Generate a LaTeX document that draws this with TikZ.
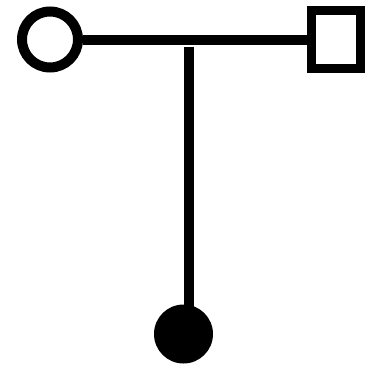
\documentclass[tikz,border=0pt]{standalone}
\pgfdeclarelayer{background}
\pgfsetlayers{background,main}
\begin{document}
\begin{tikzpicture}[x=1pt,y=1pt,
  ring/.style={circle,draw=black,line width=10pt,fill=white,minimum size=56pt,inner sep=0pt},
  box/.style={rectangle,draw=black,line width=9pt,fill=white,minimum width=49pt,minimum height=58pt,inner sep=0pt},
  dot/.style={circle,fill=black,minimum size=59pt,inner sep=0pt},
  link/.style={line width=10pt,black}]
\useasboundingbox (0,0) rectangle (369,-365);
\node[ring] (a) at (50,-39.5) {};
\node[box] (b) at (336,-39.5) {};
\node[dot] (c) at (183.5,-334) {};
\coordinate (t) at (189,-46.5);
\begin{pgfonlayer}{background}
\draw[link] (a.east) -- (b.west);
\draw[link] (t) -- (t |- c.center);
\end{pgfonlayer}
\end{tikzpicture}
\end{document}
